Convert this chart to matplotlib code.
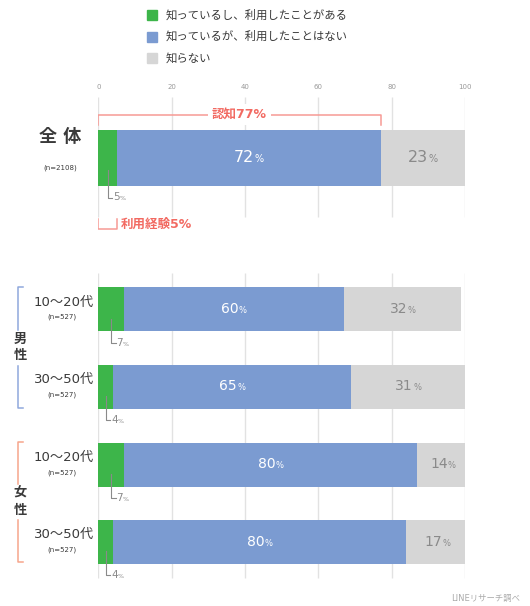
import matplotlib
matplotlib.use('Agg')
import matplotlib.pyplot as plt
from matplotlib.offsetbox import TextArea, HPacker, AnnotationBbox

plt.rcParams['font.family'] = ['DejaVu Sans', 'Noto Sans CJK JP']

# survey results (%)
groups = ['全 体', '10～20代', '30～50代', '10～20代', '30～50代']
samples = ['(n=2108)', '(n=527)', '(n=527)', '(n=527)', '(n=527)']
used = [5, 7, 4, 7, 4]
aware_only = [72, 60, 65, 80, 80]
unaware = [23, 32, 31, 14, 17]
aware_total = 77
legend_labels = ['知っているし、利用したことがある', '知っているが、利用したことはない', '知らない']
ticks = [0, 20, 40, 60, 80, 100]

GREEN = '#3db54a'
BLUE = '#7b9bd1'
GRAY = '#d6d6d6'
RED = '#f26a62'
TXT = '#3a3a3a'

# layout in pixel rows
bar_y = [158, 309, 386.5, 464.5, 541.5]
bar_h = [56, 44, 44, 44, 44]
W, H = 530, 606
x0, x100 = 98.5, 465.0

fig = plt.figure(figsize=(W / 100, H / 100), dpi=100)
lay = fig.add_axes([0, 0, 1, 1])
lay.set_xlim(0, W)
lay.set_ylim(H, 0)
lay.axis('off')

ax = fig.add_axes([x0 / W, 0, (x100 - x0) / W, 1])
ax.set_xlim(0, 100)
ax.set_ylim(H, 0)
ax.axis('off')
ax.patch.set_alpha(0)


def pct_label(axes, x, y, num, size, color, align=0.5, weight='normal'):
    big = TextArea(str(num), textprops=dict(size=size, color=color, weight=weight))
    small = TextArea('%', textprops=dict(size=size * 0.6, color=color, weight=weight))
    box = HPacker(children=[big, small], align='baseline', pad=0, sep=0)
    ab = AnnotationBbox(box, (x, y), xycoords='data', frameon=False,
                        box_alignment=(align, 0.5), pad=0, annotation_clip=False)
    axes.add_artist(ab)


# grid
for t in ticks:
    ax.vlines(t, 97, 217, color='#e2e2e2', lw=1, zorder=0)
    ax.vlines(t, 273, 578, color='#e2e2e2', lw=1, zorder=0)
    ax.text(t, 87, str(t), ha='center', va='center', fontsize=5, color='#999999')

# stacked bars
lefts2 = [u + a for u, a in zip(used, aware_only)]
ax.barh(bar_y, used, height=bar_h, color=GREEN, zorder=2)
ax.barh(bar_y, aware_only, left=used, height=bar_h, color=BLUE, zorder=2)
ax.barh(bar_y, unaware, left=lefts2, height=bar_h, color=GRAY, zorder=2)

for i in range(len(groups)):
    big = 11.5 if i == 0 else 10
    pct_label(ax, used[i] + aware_only[i] / 2, bar_y[i], aware_only[i], big, 'white')
    pct_label(ax, lefts2[i] + unaware[i] / 2, bar_y[i], unaware[i], big, '#8a8a8a')
    # leader for the small green segment
    lx = used[i] / 2
    top = bar_y[i] + bar_h[i] * 0.22
    bot = bar_y[i] + bar_h[i] / 2 + 11.5
    ax.plot([lx, lx, lx + 1.2], [top, bot, bot], color='#8a8a8a', lw=0.8, zorder=3)
    pct_label(ax, lx + 1.4, bot, used[i], 7.5, '#8a8a8a', align=0)

# awareness brackets
ax.plot([0, 0, aware_total, aware_total], [125, 115, 115, 125], color='#f79a94', lw=1.1)
ax.text(aware_total / 2, 114.5, f'認知{aware_total}%', ha='center', va='center',
        fontsize=9, color=RED, fontweight='bold',
        bbox=dict(facecolor='white', edgecolor='none', pad=3))
ax.plot([0, 0, used[0], used[0]], [219, 229, 229, 219], color='#f79a94', lw=1.1)
ax.text(used[0] + 1.2, 224, f'利用経験{used[0]}%', ha='left', va='center',
        fontsize=9, color=RED, fontweight='bold')

# row labels
lay.text(60, 137, groups[0], ha='center', va='center', fontsize=13, color=TXT, fontweight='bold')
lay.text(60, 168, samples[0], ha='center', va='center', fontsize=5, color=TXT)
for i in range(1, len(groups)):
    lay.text(94, bar_y[i] - 7, groups[i], ha='right', va='center', fontsize=9.5, color=TXT)
    lay.text(62, bar_y[i] + 8, samples[i], ha='center', va='center', fontsize=5, color=TXT)

# gender brackets
for (a, b), word, col in [((287, 408), '男性', '#8fa8dc'), ((442, 562), '女性', '#f7a58c')]:
    mid = (a + b) / 2
    lay.plot([23, 18, 18], [a, a, mid - 18], color=col, lw=1.1)
    lay.plot([18, 18, 23], [mid + 18, b, b], color=col, lw=1.1)
    lay.text(20, mid - 8.5, word[0], ha='center', va='center', fontsize=9.5, color=TXT, fontweight='bold')
    lay.text(20, mid + 8.5, word[1], ha='center', va='center', fontsize=9.5, color=TXT, fontweight='bold')

# legend
for k, (lab, col) in enumerate(zip(legend_labels, [GREEN, BLUE, GRAY])):
    yy = 15 + k * 21.5
    lay.add_patch(plt.Rectangle((147, yy - 5), 10, 10, color=col))
    lay.text(166, yy, lab, ha='left', va='center', fontsize=8.2, color=TXT)

lay.text(520, 598, 'LINEリサーチ調べ', ha='right', va='center', fontsize=6, color='#aaaaaa')

fig.savefig('out.png', dpi=100)
